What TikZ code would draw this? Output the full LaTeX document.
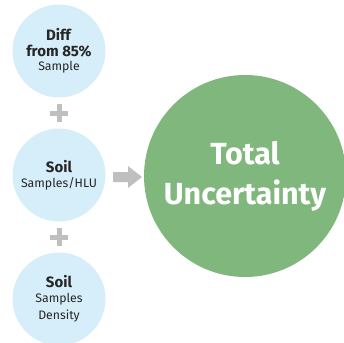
\documentclass[tikz,border=0pt]{standalone}
\usepackage{fontspec}
\setmainfont{Fira Sans}
\newcommand{\headline}[1]{\textbf{\fontsize{15}{18}\selectfont #1}}
\begin{document}
\begin{tikzpicture}[x=1pt,y=-1pt,
  input/.style={circle,fill=inblue,minimum size=93pt,inner sep=0pt,align=center,
    font=\fontsize{12.3}{17}\selectfont,text=black!85},
  total/.style={circle,fill=totgreen,minimum size=202pt,inner sep=0pt,align=center,
    text=white,font=\bfseries\fontsize{30.5}{40}\selectfont},
  plusbar/.style={draw=signgray,line width=5pt},
  arrowfill/.style={fill=signgray}]
\definecolor{inblue}{HTML}{D5EEFA}
\definecolor{totgreen}{HTML}{7FB77D}
\definecolor{signgray}{HTML}{BFBFBF}
\useasboundingbox (0,0) rectangle (344,342);

% the three inputs
\node[input] (diff) at (59,51)
  {\headline{Diff}\\[-1pt]\headline{from 85\%}\\[-3pt]Sample};
\node[input] (hlu) at (59,175)
  {\headline{Soil}\\[-2pt]Samples/HLU};
\node[input] (dens) at (59,299)
  {\headline{Soil}\\[-2pt]Samples\\Density};

% the result
\node[total] (tot) at (245,176) {Total\\Uncertainty};

% plus signs between the inputs
\coordinate (p1) at (59,113);
\coordinate (p2) at (59,237);
\foreach \p in {p1,p2}{
  \draw[plusbar] ([xshift=-9pt]\p) -- ([xshift=9pt]\p);
  \draw[plusbar] ([yshift=-9pt]\p) -- ([yshift=9pt]\p);
}

% block arrow into the result
\fill[arrowfill] (113,172) -- (128,172) -- (128,166) -- (142,177)
  -- (128,188) -- (128,182) -- (113,182) -- cycle;
\end{tikzpicture}
\end{document}
